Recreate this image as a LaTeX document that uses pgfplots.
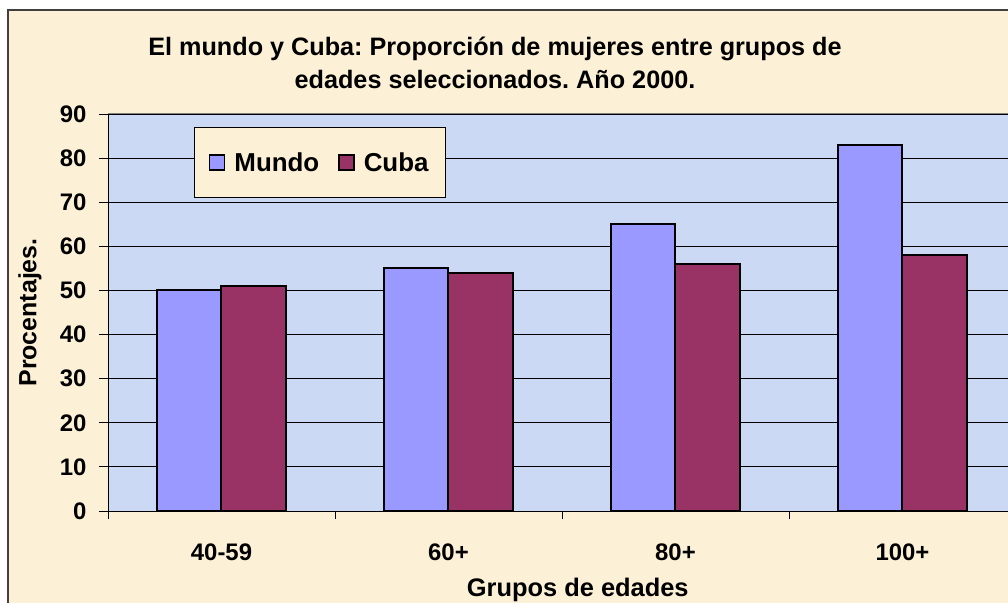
\documentclass[border=0pt]{standalone}
\usepackage{pgfplots}
\pgfplotsset{compat=1.18}
\usepackage{fontspec}
\setmainfont{Liberation Sans}
\frenchspacing
\definecolor{parch}{RGB}{252,240,214}
\definecolor{plotbg}{RGB}{203,217,244}
\definecolor{mundo}{RGB}{153,153,255}
\definecolor{cuba}{RGB}{153,51,102}
\begin{document}
\begin{tikzpicture}
\path[use as bounding box, fill=white] (0bp,0bp) rectangle (1008bp,603bp);
\fill[parch] (8bp,0bp) rectangle (1008bp,593bp);
\draw[black!75, line width=1.2bp] (8bp,0bp) -- (8bp,593bp) -- (1008bp,593bp);
\node[font=\bfseries\fontsize{25.3}{33}\selectfont, align=center] at (495bp,540bp) {El mundo y Cuba: Proporción de mujeres entre grupos de\\edades seleccionados. Año 2000.};
\begin{axis}[
  at={(108bp,92bp)}, anchor=south west,
  scale only axis, width=900bp, height=397bp,
  xmin=-0.5, xmax=3.465, ymin=0, ymax=90,
  ytick={0,10,...,90},
  xtick={0,1,2,3}, xticklabels={40-59,60+,80+,100+},
  major x tick style={draw=none},
  minor xtick={-0.5,0.5,1.5,2.5},
  tick align=outside, major tick length=9bp, minor tick length=8bp,
  tick style={black, line width=0.8bp},
  axis x line*=bottom, axis y line*=left,
  axis line style={black, line width=1bp},
  ymajorgrids, grid style={black, line width=0.8bp},
  axis background/.style={fill=plotbg},
  ybar=0pt, bar width=0.286,
  /pgf/number format/assume math mode=true,
  y tick label style={font=\bfseries\fontsize{24}{24}\selectfont, xshift=-9bp},
  x tick label style={font=\bfseries\fontsize{24}{24}\selectfont, yshift=-20bp},
  xlabel={Grupos de edades},
  xlabel style={font=\bfseries\fontsize{25.5}{25}\selectfont, at={(axis description cs:0.522,-0.2)}, anchor=center},
  ylabel={Procentajes.},
  ylabel style={font=\bfseries\fontsize{25}{25}\selectfont, at={(axis description cs:-0.0867,0.5)}, anchor=center},
  legend style={at={(axis description cs:0.0956,0.967)}, anchor=north west, fill=parch, draw=black, line width=0.8bp,
    font=\bfseries\fontsize{26}{26}\selectfont, inner xsep=14.5bp, inner ysep=23bp},
  legend columns=2,
  legend image code/.code={\draw[#1, line width=1.5bp] (0bp,-7.5bp) rectangle (15bp,7.5bp);},
  /tikz/every odd column/.append style={column sep=7bp},
  /tikz/every even column/.append style={column sep=17bp},
]
\addplot[fill=mundo, draw=black, line width=2bp] coordinates {(0,50) (1,55) (2,65) (3,83)};
\addplot[fill=cuba, draw=black, line width=2bp] coordinates {(0,51) (1,54) (2,56) (3,58)};
\legend{Mundo,Cuba}
\draw[gray, line width=1bp] (rel axis cs:0,1) -- (rel axis cs:1,1);
\end{axis}
\end{tikzpicture}
\end{document}
